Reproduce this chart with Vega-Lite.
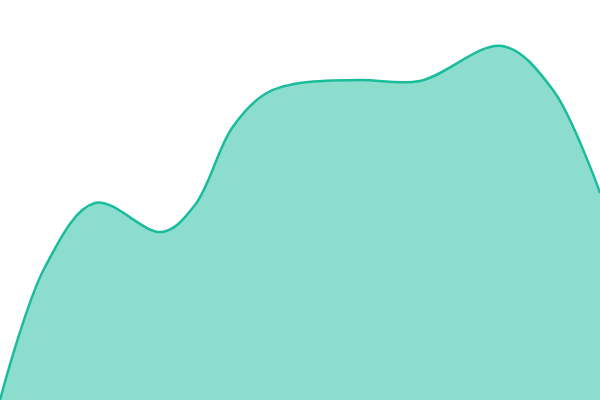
{
  "$schema": "https://vega.github.io/schema/vega-lite/v6.json",
  "width": 600,
  "height": 400,
  "autosize": "none",
  "padding": 0,
  "config": {"view": {"stroke": null}},
  "data": {
    "values": [
      {"x": 0, "v": 0},
      {"x": 45, "v": 133},
      {"x": 95, "v": 197},
      {"x": 162, "v": 168},
      {"x": 195, "v": 195},
      {"x": 232, "v": 272},
      {"x": 265, "v": 306},
      {"x": 300, "v": 317},
      {"x": 360, "v": 320},
      {"x": 420, "v": 319},
      {"x": 502, "v": 354},
      {"x": 553, "v": 310},
      {"x": 600, "v": 207}
    ]
  },
  "mark": {
    "type": "area",
    "interpolate": "catmull-rom",
    "clip": true,
    "color": "#1abc9c",
    "fillOpacity": 0.5,
    "line": {"color": "#1abc9c", "strokeWidth": 2.5, "clip": true}
  },
  "encoding": {
    "x": {"field": "x", "type": "quantitative", "axis": null, "scale": {"domain": [0, 600], "nice": false}},
    "y": {"field": "v", "type": "quantitative", "axis": null, "scale": {"domain": [0, 400], "nice": false}}
  }
}
